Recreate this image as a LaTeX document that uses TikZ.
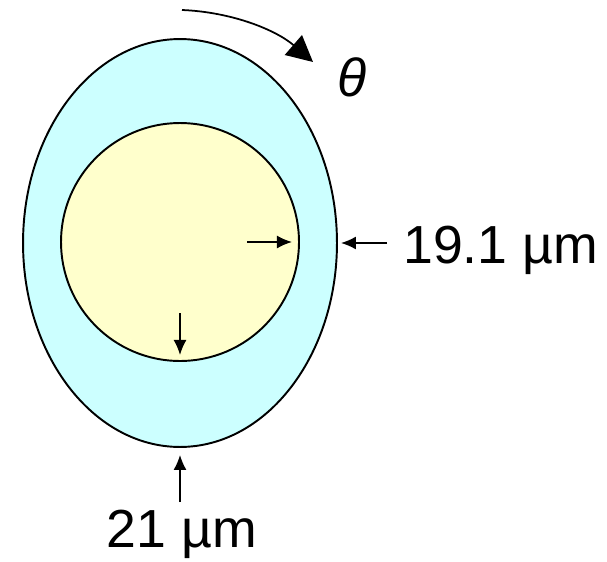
\documentclass[tikz,border=0pt]{standalone}
\usepackage{fontspec}
\setmainfont{Liberation Sans}
\usepackage{xcolor}
\usetikzlibrary{arrows.meta,positioning,shapes.geometric}
\definecolor{cladding}{HTML}{CCFFFF}
\definecolor{core}{HTML}{FFFFCC}

\begin{document}
\begin{tikzpicture}[
  x=0.02cm,y=-0.02cm,
  lbl/.style={font=\fontsize{30.5}{34}\selectfont,inner sep=0pt},
  ring/.style={draw,line width=1.1pt,inner sep=0pt},
  gap/.style={-{Latex[length=3mm,width=2.6mm]},line width=0.9pt},
  turn/.style={-{Triangle[length=5.2mm,width=5.2mm]},line width=1pt}
]
\useasboundingbox (0,0) rectangle (607,561);
\node[ring,ellipse,fill=cladding,minimum width=6.28cm,minimum height=8.16cm] (clad) at (180,243) {};
\node[ring,circle,fill=core,minimum size=4.76cm] (cr) at (180,242) {};

\coordinate (rin) at (247,242);
\coordinate (rout) at (387,243);
\coordinate (bin) at (180,313);
\coordinate (bout) at (180,502);
\draw[gap,shorten >=1.6mm] (rin) -- (cr.east);
\draw[gap,shorten >=0.6mm] (rout) -- (clad.east);
\draw[gap,shorten >=1.4mm] (bin) -- (cr.south);
\draw[gap,shorten >=1.4mm] (bout) -- (clad.south);
\node[lbl,anchor=base west] (thick) at (403,263) {19.1 µm};
\node[lbl,anchor=base] (len) at (182,547) {21 µm};

\coordinate (spin0) at (182,10);
\coordinate (spin1) at (313,62);
\draw[turn] (spin0) .. controls (232,12) and (276,30) .. (spin1);
\node[lbl,anchor=base] (ang) at (352,96) {\textit{θ}};
\end{tikzpicture}
\end{document}
